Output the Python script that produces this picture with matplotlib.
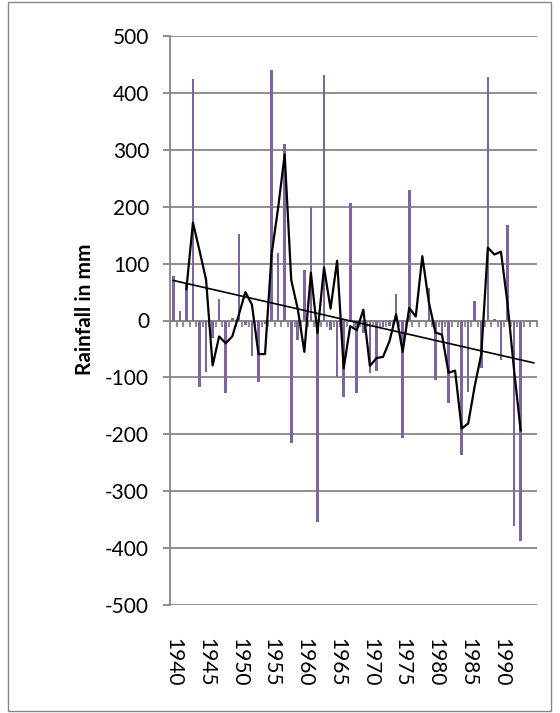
import numpy as np
import matplotlib.pyplot as plt
from matplotlib.patches import Rectangle

plt.rcParams['font.family'] = ['Lato', 'DejaVu Sans']
plt.rcParams['axes.unicode_minus'] = False

# categories on the x axis
years = list(range(1940, 1996))
tick_years = list(range(1940, 1995, 5))

# rainfall departure per year (mm)
rain_years = list(range(1940, 1994))
rainfall = [79, 16, 65, 425, -117, -90, -30, 37, -127, 5,
            152, -8, -63, -108, -7, 440, 118, 311, -216, -35,
            88, 200, -355, 432, -17, -100, -135, 207, -127, -22,
            -93, -88, -11, -10, 47, -207, 229, -2, 0, 57,
            -104, -28, -145, 0, -237, -125, 35, -83, 428, 3,
            -69, 167, -361, -387]

# 3 year moving average as drawn in the chart
ma_years = list(range(1942, 1994))
moving_avg = [55, 172, 123, 72, -79, -28, -40, -28, 10, 50,
              28, -59, -59, 116, 198, 292, 71, 20, -55, 84,
              -22, 93, 21, 105, -84, -10, -17, 19, -80, -66,
              -64, -36, 11, -55, 22, 7, 113, 32, -21, -25,
              -92, -88, -190, -181, -115, -59, 128, 116, 121, 30,
              -87, -193]

grey = '#868686'
purple = '#8064A2'

fig = plt.figure(figsize=(5.6, 7.13), dpi=100)
ax = fig.add_axes([170 / 560, 1 - 605 / 713, 367 / 560, 569 / 713])

ax.bar(rain_years, rainfall, width=0.4, color=purple, zorder=2)
ax.plot(ma_years, moving_avg, color='black', lw=1.6, zorder=3)

# linear trend
coef = np.polyfit(rain_years, rainfall, 1)
trend_x = np.array([years[0], years[-1]])
ax.plot(trend_x, np.polyval(coef, trend_x), color='black', lw=1.2, zorder=3)

ax.set_xlim(years[0] - 0.5, years[-1] + 0.5)
ax.set_ylim(-500, 500)
ax.set_yticks(range(-500, 501, 100))
ax.yaxis.grid(True, color=grey, lw=1.3)
ax.set_axisbelow(True)

ax.spines['top'].set_visible(False)
ax.spines['right'].set_visible(False)
ax.spines['left'].set_color(grey)
ax.spines['left'].set_linewidth(1.3)
ax.spines['bottom'].set_position(('data', 0))
ax.spines['bottom'].set_color(grey)
ax.spines['bottom'].set_linewidth(1.3)
ax.spines['bottom'].set_zorder(1)

ax.set_xticks(np.arange(years[0] - 0.5, years[-1] + 1, 1))
ax.set_xticklabels([])
ax.tick_params(axis='x', direction='out', length=4, width=1.3, color=grey)
ax.tick_params(axis='y', direction='out', length=5, width=1.3, color=grey,
               labelsize=15, pad=10)

secax = ax.secondary_xaxis('bottom')
secax.set_xticks(tick_years, labels=[str(y) for y in tick_years])
secax.tick_params(length=0, pad=24, labelsize=15, rotation=-90)
secax.spines['bottom'].set_visible(False)

ax.set_ylabel('Rainfall in mm', fontsize=15, fontweight='bold')
ax.yaxis.set_label_coords(-75 / 367, 0.52)

fig.patches.append(Rectangle((8 / 560, 2 / 713), 543 / 560, 709 / 713,
                             transform=fig.transFigure, fill=False,
                             edgecolor=grey, lw=1))

fig.savefig('out.png', dpi=100)
